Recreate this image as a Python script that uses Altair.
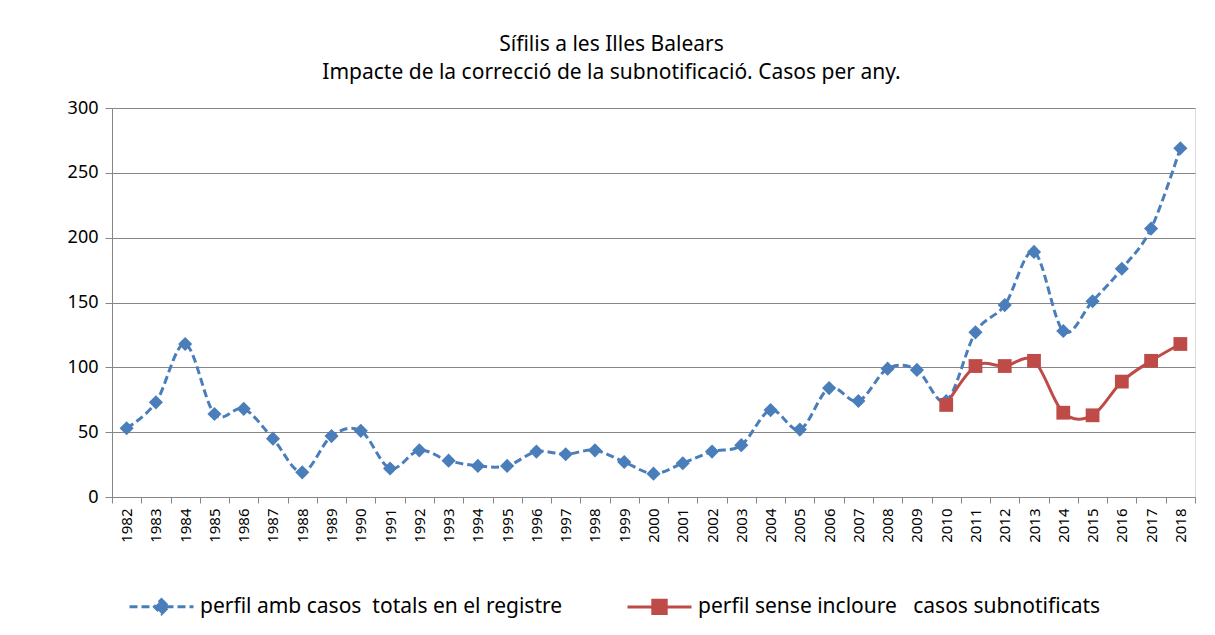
import altair as alt
import pandas as pd

years = list(range(1982, 2019))
totals = [53, 73, 118, 64, 68, 45, 19, 47, 51, 22, 36, 28, 24, 24, 35, 33, 36, 27, 18,
          26, 35, 40, 67, 52, 84, 74, 99, 98, 74, 127, 148, 189, 128, 151, 176, 207, 269]
sense_years = list(range(2010, 2019))
sense = [71, 101, 101, 105, 65, 63, 89, 105, 118]

serie_a = "perfil amb casos\u00a0 totals en el registre"
serie_b = "perfil sense incloure\u00a0\u00a0 casos subnotificats"
series = [serie_a, serie_b]
colors = ["#4A7EBB", "#BE4B48"]
title_lines = ["Sífilis a les Illes Balears",
               "Impacte de la correcció de la subnotificació.  Casos per any."]
y_ticks = [0, 50, 100, 150, 200, 250, 300]

rows = [{"any": str(y), "casos": v, "serie": serie_a} for y, v in zip(years, totals)]
rows += [{"any": str(y), "casos": v, "serie": serie_b} for y, v in zip(sense_years, sense)]
df = pd.DataFrame(rows)

FONT = "Noto Sans"
GRAY = "#868686"

x = alt.X("any:O", sort=[str(y) for y in years],
          scale=alt.Scale(type="band", paddingInner=0, paddingOuter=0),
          axis=alt.Axis(title=None, labelAngle=270, tickBand="extent", tickSize=6,
                        labelPadding=5, labelFontSize=15, labelFont=FONT,
                        labelColor="black", domainColor=GRAY, tickColor=GRAY, grid=False))
y = alt.Y("casos:Q", scale=alt.Scale(domain=[0, 300], nice=False),
          axis=alt.Axis(title=None, values=y_ticks, grid=True, gridColor=GRAY,
                        domainColor=GRAY, tickColor=GRAY, tickSize=7, labelPadding=7,
                        labelFontSize=18, labelFont=FONT, labelColor="black"))

base = alt.Chart(df)
ser_a = base.transform_filter(alt.datum.serie == serie_a)
ser_b = base.transform_filter(alt.datum.serie == serie_b)

line_a = ser_a.mark_line(strokeWidth=3, interpolate="cardinal", color=colors[0],
                         strokeDash=[8, 4]).encode(x=x, y=y)
line_b = ser_b.mark_line(strokeWidth=3, interpolate="cardinal", color=colors[1]).encode(x=x, y=y)
pts_a = ser_a.mark_point(filled=True, opacity=1, shape="diamond", size=200,
                         color=colors[0]).encode(x=x, y=y)
pts_b = ser_b.mark_point(filled=True, opacity=1, shape="square", size=190,
                         color=colors[1]).encode(x=x, y=y)

legend = alt.Legend(
    title=None, orient="none", legendX=16, legendY=465, direction="horizontal",
    columns=2, columnPadding=58, labelFontSize=21, labelFont=FONT, labelColor="black",
    labelLimit=700, labelOffset=5, symbolSize=4096, symbolStrokeWidth=3, padding=0,
    symbolOpacity=1)
path_a = "M-1,0L1,0M0,-0.22L0.22,0L0,0.22L-0.22,0Z"
path_b = "M-1,0L1,0M-0.21,-0.21L0.21,-0.21L0.21,0.21L-0.21,0.21Z"

legend_layer = base.mark_point(filled=True, opacity=0, size=4096, strokeWidth=3).encode(
    x=x, y=y,
    fill=alt.Fill("serie:N", scale=alt.Scale(domain=series, range=colors), legend=legend),
    stroke=alt.Stroke("serie:N", scale=alt.Scale(domain=series, range=colors), legend=legend),
    shape=alt.Shape("serie:N", scale=alt.Scale(domain=series, range=[path_a, path_b]),
                    legend=legend),
    strokeDash=alt.StrokeDash("serie:N", scale=alt.Scale(domain=series, range=[[8, 4], [1, 0]]),
                              legend=legend),
)

chart = alt.layer(line_a, line_b, pts_a, pts_b, legend_layer).properties(
    width=1083, height=389,
    autosize=alt.AutoSizeParams(type="none"),
    padding={"left": 104, "top": 100, "right": 12, "bottom": 130},
    title=alt.TitleParams(text=title_lines, fontSize=21, font=FONT, fontWeight="normal",
                          color="black", anchor="middle", dx=-42, offset=16, lineHeight=28),
).configure_view(stroke=None).configure(background="white")

chart.save("out.html", embed_options={"renderer": "svg", "actions": False})
